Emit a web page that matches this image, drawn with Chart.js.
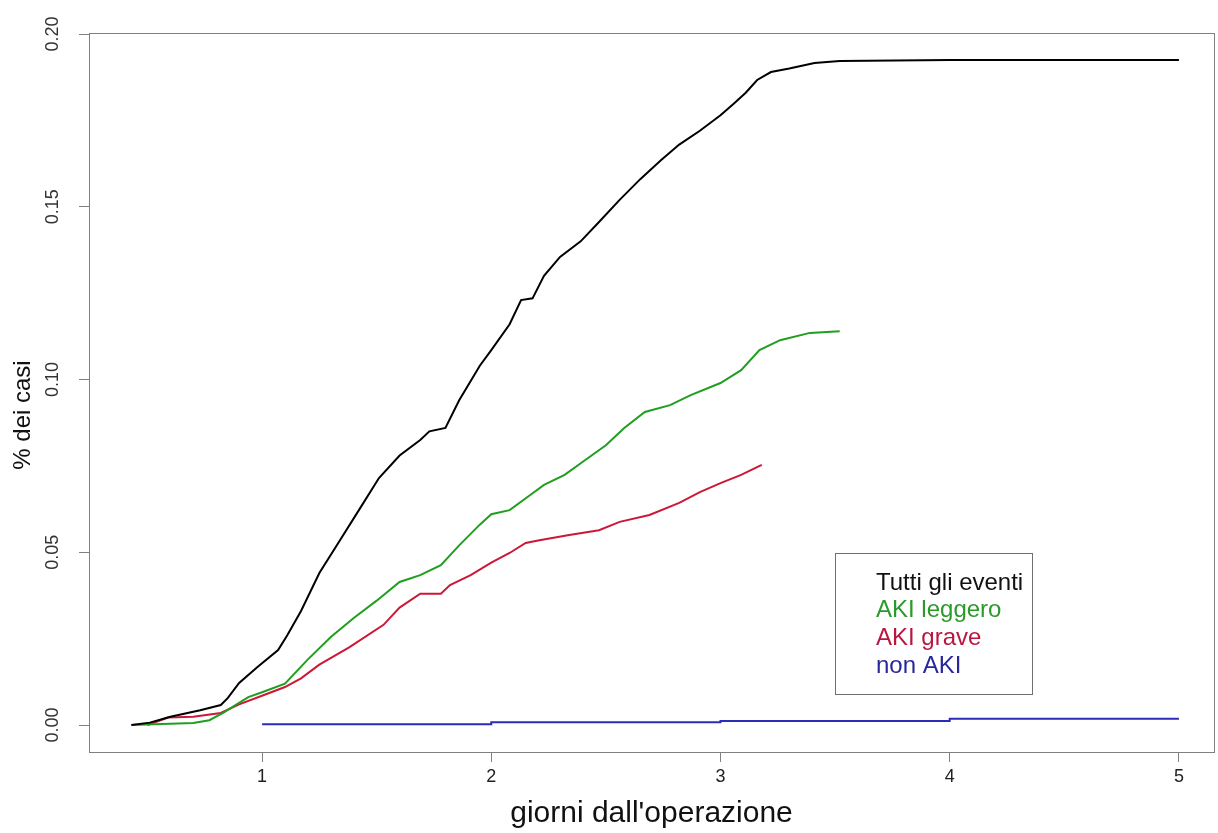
<!DOCTYPE html>
<html lang="it">
<head>
    <meta charset="UTF-8" />
    <title>Incidenza cumulativa AKI</title>
    <script src="https://cdn.jsdelivr.net/npm/chart.js"></script>
    <style>
        body { margin: 0; background: #fff; }
        #wrap { width: 1218px; height: 833px; position: relative; }
    </style>
</head>
<body>
    <div id="wrap"><canvas id="akiChart"></canvas></div>

    <script>
    // Tick degli assi
    const xTicks = [1, 2, 3, 4, 5];
    const yTicks = [0, 0.05, 0.10, 0.15, 0.20];
    const yTickLabels = ['0.00', '0.05', '0.10', '0.15', '0.20'];

    // Tutti gli eventi
    const tuttiX = [0.43, 0.51, 0.60, 0.73, 0.82, 0.85, 0.90, 0.98, 1.07, 1.11, 1.17, 1.25, 1.34, 1.43, 1.51, 1.60, 1.69, 1.73, 1.80, 1.86, 1.95, 2.00, 2.08, 2.13, 2.18, 2.23, 2.30, 2.39, 2.47, 2.56, 2.65, 2.74, 2.82, 2.91, 3.00, 3.06, 3.11, 3.16, 3.22, 3.30, 3.41, 3.52, 4.00, 5.00];
    const tuttiY = [0.0000, 0.0007, 0.0024, 0.0043, 0.0058, 0.0078, 0.0122, 0.0168, 0.0217, 0.0260, 0.0330, 0.0440, 0.0535, 0.0630, 0.0715, 0.0780, 0.0825, 0.0850, 0.0860, 0.0940, 0.1040, 0.1085, 0.1160, 0.1230, 0.1235, 0.1300, 0.1355, 0.1400, 0.1456, 0.1520, 0.1580, 0.1635, 0.1680, 0.1720, 0.1765, 0.1800, 0.1830, 0.1867, 0.1890, 0.1900, 0.1916, 0.1922, 0.1925, 0.1925];

    // AKI leggero
    const leggeroX = [0.43, 0.70, 0.77, 0.83, 0.87, 0.94, 1.00, 1.10, 1.20, 1.30, 1.40, 1.50, 1.60, 1.69, 1.78, 1.86, 1.95, 2.00, 2.08, 2.17, 2.23, 2.32, 2.41, 2.50, 2.58, 2.67, 2.78, 2.87, 3.00, 3.09, 3.17, 3.26, 3.39, 3.52];
    const leggeroY = [0.0000, 0.0006, 0.0014, 0.0035, 0.0052, 0.0081, 0.0095, 0.0120, 0.0190, 0.0255, 0.0310, 0.0360, 0.0414, 0.0434, 0.0463, 0.0520, 0.0580, 0.0610, 0.0622, 0.0666, 0.0695, 0.0724, 0.0767, 0.0810, 0.0860, 0.0906, 0.0926, 0.0955, 0.0990, 0.1027, 0.1085, 0.1114, 0.1135, 0.1140];

    // AKI grave
    const graveX = [0.50, 0.59, 0.70, 0.82, 0.90, 1.02, 1.10, 1.17, 1.25, 1.38, 1.53, 1.60, 1.69, 1.78, 1.82, 1.91, 2.00, 2.08, 2.15, 2.21, 2.34, 2.47, 2.56, 2.69, 2.82, 2.91, 3.00, 3.09, 3.18];
    const graveY = [0.0000, 0.0022, 0.0024, 0.0035, 0.0060, 0.0090, 0.0110, 0.0135, 0.0175, 0.0225, 0.0290, 0.0340, 0.0380, 0.0380, 0.0405, 0.0434, 0.0470, 0.0498, 0.0527, 0.0535, 0.0550, 0.0564, 0.0588, 0.0608, 0.0643, 0.0674, 0.0700, 0.0724, 0.0753];

    // non AKI
    const nonAkiX = [1.0, 2.0, 3.0, 4.0, 5.0];
    const nonAkiY = [0.0002, 0.0008, 0.0012, 0.0018, 0.0018];

    function punti(xs, ys) {
        return xs.map((x, i) => ({ x: x, y: ys[i] }));
    }

    const grigio = '#808080';
    const fontFamily = '"Liberation Sans", Arial, sans-serif';

    // Riquadro attorno all'area del grafico (stile R)
    const boxPlugin = {
        id: 'box',
        afterDraw(chart) {
            const a = chart.chartArea;
            const ctx = chart.ctx;
            ctx.save();
            ctx.strokeStyle = grigio;
            ctx.lineWidth = 1;
            ctx.strokeRect(Math.round(a.left) + 0.5, Math.round(a.top) + 0.5,
                Math.round(a.right - a.left), Math.round(a.bottom - a.top));
            ctx.restore();
        }
    };

    // Titolo dell'asse y, un po' sotto il centro come nel grafico R
    const yTitlePlugin = {
        id: 'yTitle',
        afterDraw(chart) {
            const ctx = chart.ctx;
            ctx.save();
            ctx.translate(23, 415);
            ctx.rotate(-Math.PI / 2);
            ctx.font = '24px ' + fontFamily;
            ctx.fillStyle = '#111';
            ctx.textAlign = 'center';
            ctx.textBaseline = 'middle';
            ctx.fillText('% dei casi', 0, 0);
            ctx.restore();
        }
    };

    // Legenda dentro il grafico: solo testo colorato in un riquadro
    const legendaPlugin = {
        id: 'legenda',
        afterDraw(chart) {
            const ctx = chart.ctx;
            ctx.save();
            ctx.strokeStyle = '#707070';
            ctx.lineWidth = 1;
            ctx.strokeRect(835.5, 553.5, 197, 141);
            ctx.font = '24px ' + fontFamily;
            ctx.textBaseline = 'middle';
            ctx.textAlign = 'left';
            chart.data.datasets.forEach((ds, i) => {
                ctx.fillStyle = ds.legendColor;
                ctx.fillText(ds.label, 876, 583 + i * 27.7);
            });
            ctx.restore();
        }
    };

    const ctx = document.getElementById('akiChart').getContext('2d');
    const akiChart = new Chart(ctx, {
        type: 'line',
        data: {
            datasets: [
                {
                    label: 'Tutti gli eventi',
                    data: punti(tuttiX, tuttiY),
                    borderColor: '#000000',
                    legendColor: '#111111'
                },
                {
                    label: 'AKI leggero',
                    data: punti(leggeroX, leggeroY),
                    borderColor: '#1f9e1f',
                    legendColor: '#2a9a2a'
                },
                {
                    label: 'AKI grave',
                    data: punti(graveX, graveY),
                    borderColor: '#cc1836',
                    legendColor: '#b81840'
                },
                {
                    label: 'non AKI',
                    data: punti(nonAkiX, nonAkiY),
                    borderColor: '#2c2cb8',
                    legendColor: '#28289a',
                    stepped: true
                }
            ]
        },
        options: {
            responsive: true,
            maintainAspectRatio: false,
            animation: false,
            layout: { padding: { top: 33, right: 4, left: 0, bottom: 0 } },
            elements: {
                point: { radius: 0 },
                line: { borderWidth: 2, tension: 0 }
            },
            plugins: {
                legend: { display: false },
                tooltip: { enabled: false }
            },
            scales: {
                x: {
                    type: 'linear',
                    min: 0.245,
                    max: 5.153,
                    afterBuildTicks: s => { s.ticks = xTicks.map(v => ({ value: v })); },
                    afterFit: s => { s.height = 81; },
                    grid: { drawOnChartArea: false, tickLength: 10, color: grigio },
                    border: { color: grigio },
                    ticks: {
                        padding: 4,
                        color: '#222',
                        font: { family: fontFamily, size: 18 },
                        maxRotation: 0
                    },
                    title: {
                        display: true,
                        text: "giorni dall'operazione",
                        color: '#111',
                        padding: { top: 0, bottom: 1 },
                        font: { family: fontFamily, size: 30 }
                    }
                },
                y: {
                    type: 'linear',
                    min: -0.0078,
                    max: 0.2003,
                    afterBuildTicks: s => { s.ticks = yTicks.map(v => ({ value: v })); },
                    afterFit: s => { s.width = 89; },
                    grid: { drawOnChartArea: false, tickLength: 10, color: grigio },
                    border: { color: grigio },
                    ticks: {
                        padding: 8,
                        color: '#333',
                        minRotation: 90,
                        maxRotation: 90,
                        crossAlign: 'center',
                        font: { family: fontFamily, size: 18 },
                        callback: (v, i) => yTickLabels[i]
                    }
                }
            }
        },
        plugins: [boxPlugin, yTitlePlugin, legendaPlugin]
    });
    </script>
</body>
</html>
